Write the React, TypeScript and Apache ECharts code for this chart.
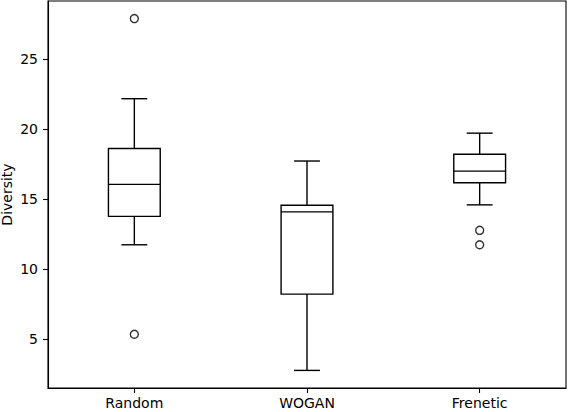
import React, { useEffect, useRef } from "react";
import * as echarts from "echarts";

const categories = ["Random", "WOGAN", "Frenetic"];
const whiskerLow = [11.72, 2.75, 14.57];
const q1 = [13.75, 8.2, 16.15];
const median = [16.03, 14.07, 16.98];
const q3 = [18.59, 14.54, 18.18];
const whiskerHigh = [22.15, 17.7, 19.69];
const outlierCategory = [0, 0, 2, 2];
const outlierValue = [27.87, 5.33, 12.75, 11.72];
const yTicks = [5, 10, 15, 20, 25];
const yAxisTitle = "Diversity";

const FONT = "DejaVu Sans";

export default function App() {
  const ref = useRef<HTMLDivElement>(null);
  useEffect(() => {
    if (!ref.current) return;
    const chart = echarts.init(ref.current, undefined, { renderer: "svg" });
    const allVals = [...whiskerLow, ...whiskerHigh, ...outlierValue];
    const dMin = Math.min(...allVals);
    const dMax = Math.max(...allVals);
    const pad = (dMax - dMin) * 0.05;
    const boxData = categories.map((_, i) => [i, whiskerLow[i], q1[i], median[i], q3[i], whiskerHigh[i]]);
    const outData = outlierCategory.map((c, i) => [c, outlierValue[i]]);
    const lw = 1.4;
    chart.setOption({
      animation: false,
      grid: {
        left: 48,
        right: 2,
        top: 1,
        bottom: 24,
        outerBoundsMode: "none",
        containLabel: false,
        show: true,
        borderColor: "#000",
        borderWidth: 1.1,
        backgroundColor: "transparent",
      },
      graphic: [
        {
          type: "text",
          x: 7,
          y: 194.5,
          rotation: Math.PI / 2,
          style: {
            text: yAxisTitle,
            fill: "#000",
            font: `14px "${FONT}"`,
            align: "center",
            verticalAlign: "middle",
          },
        },
      ],
      xAxis: {
        type: "category",
        data: categories,
        boundaryGap: true,
        axisLine: { show: true, lineStyle: { color: "#000", width: 1.1 } },
        axisTick: { show: true, alignWithLabel: true, length: 5, lineStyle: { color: "#000", width: 1.1 } },
        axisLabel: { color: "#000", fontFamily: FONT, fontSize: 14, margin: 8 },
        splitLine: { show: false },
      },
      yAxis: {
        type: "value",
        min: dMin - pad,
        max: dMax + pad,
        axisLine: { show: true, lineStyle: { color: "#000", width: 1.1 } },
        axisTick: { show: true, length: 5, customValues: yTicks, lineStyle: { color: "#000", width: 1.1 } },
        axisLabel: { color: "#000", fontFamily: FONT, fontSize: 14, margin: 10, customValues: yTicks },
        splitLine: { show: false },
      },
      series: [
        {
          type: "custom",
          data: boxData,
          encode: { x: 0, y: [1, 2, 3, 4, 5] },
          renderItem: (params: any, api: any) => {
            const x = api.value(0);
            const lo = api.coord([x, api.value(1)]);
            const b1 = api.coord([x, api.value(2)]);
            const md = api.coord([x, api.value(3)]);
            const b3 = api.coord([x, api.value(4)]);
            const hi = api.coord([x, api.value(5)]);
            const band = api.size([1, 0])[0];
            const hw = band * 0.15;
            const cw = hw / 2;
            const cx = lo[0];
            const st = { stroke: "#000", lineWidth: lw, fill: "none" };
            return {
              type: "group",
              children: [
                { type: "rect", shape: { x: cx - hw, y: b3[1], width: 2 * hw, height: b1[1] - b3[1] }, style: st },
                { type: "line", shape: { x1: cx - hw, y1: md[1], x2: cx + hw, y2: md[1] }, style: st },
                { type: "line", shape: { x1: cx, y1: b3[1], x2: cx, y2: hi[1] }, style: st },
                { type: "line", shape: { x1: cx, y1: b1[1], x2: cx, y2: lo[1] }, style: st },
                { type: "line", shape: { x1: cx - cw, y1: hi[1], x2: cx + cw, y2: hi[1] }, style: st },
                { type: "line", shape: { x1: cx - cw, y1: lo[1], x2: cx + cw, y2: lo[1] }, style: st },
              ],
            };
          },
        },
        {
          type: "scatter",
          data: outData,
          symbol: "circle",
          symbolSize: 8,
          z: 3,
          itemStyle: { color: "rgba(0,0,0,0)", borderColor: "#000", borderWidth: lw },
        },
      ],
    });
    return () => chart.dispose();
  }, []);
  return <div ref={ref} style={{ position: "absolute", left: 0, top: 0, width: 568, height: 412 }} />;
}
